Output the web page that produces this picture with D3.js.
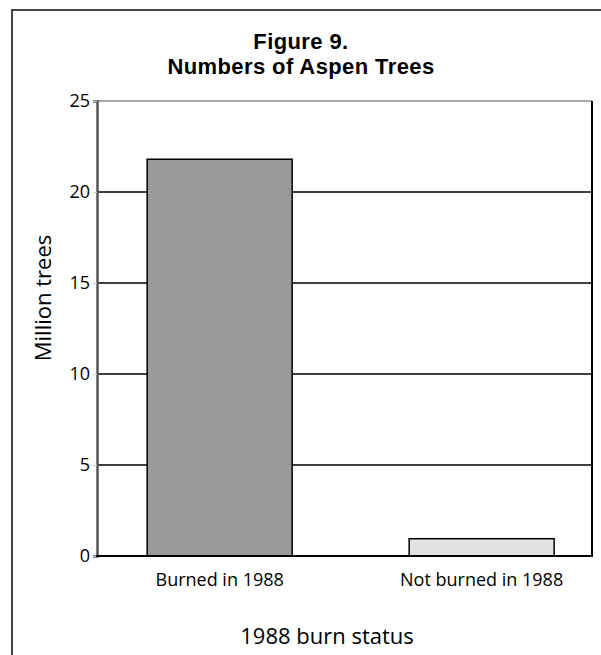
<!DOCTYPE html>
<html><head><meta charset="utf-8">
<script src="https://cdn.jsdelivr.net/npm/d3@7"></script>
<style>body{margin:0;background:#fff}svg{display:block}text{font-family:"Open Sans",sans-serif;fill:#000}</style>
</head><body>
<script>
const categories = ["Burned in 1988", "Not burned in 1988"];
const values = [21.8, 0.95];
const barColors = ["#9a9a9a", "#e2e2e2"];
const yTicks = [0, 5, 10, 15, 20, 25];
const titleLines = ["Figure 9.", "Numbers of Aspen Trees"];
const yTitle = "Million trees";
const xTitle = "1988 burn status";

const W = 601, H = 655;
const svg = d3.select("body").append("svg").attr("width", W).attr("height", H);

// outer frame
svg.append("rect").attr("x", 12).attr("y", 10).attr("width", 700).attr("height", 700)
  .attr("fill", "none").attr("stroke", "#444").attr("stroke-width", 2);

const m = {left: 97, right: 592, top: 101, bottom: 556};
const y = d3.scaleLinear().domain([0, 25]).range([m.bottom, m.top]);
const x = d3.scaleBand().domain(categories).range([m.left, m.right])
  .paddingInner(0.4466).paddingOuter(0.168).align(0.57);

// gridlines
svg.append("g").selectAll("line").data(yTicks.filter(d => d > 0 && d < 25)).join("line")
  .attr("x1", m.left).attr("x2", m.right).attr("y1", d => y(d)).attr("y2", d => y(d))
  .attr("stroke", "#000").attr("stroke-width", 1.3);
// top line
svg.append("line").attr("x1", m.left).attr("x2", m.right).attr("y1", y(25)).attr("y2", y(25))
  .attr("stroke", "#aaa").attr("stroke-width", 2);

// bars
svg.append("g").selectAll("rect").data(categories).join("rect")
  .attr("x", d => x(d)).attr("width", x.bandwidth())
  .attr("y", (d, i) => y(values[i])).attr("height", (d, i) => y(0) - y(values[i]))
  .attr("fill", (d, i) => barColors[i]).attr("stroke", "#000").attr("stroke-width", 1.5);

// right edge
svg.append("line").attr("x1", m.right).attr("x2", m.right).attr("y1", m.top).attr("y2", m.bottom)
  .attr("stroke", "#000").attr("stroke-width", 2);

// y axis
const yAxis = svg.append("g").attr("transform", `translate(${m.left},0)`)
  .call(d3.axisLeft(y).tickValues(yTicks).tickSize(4).tickPadding(3).tickFormat(d3.format("d")));
yAxis.select(".domain").attr("stroke", "#555").attr("stroke-width", 2.5);
yAxis.selectAll(".tick line").attr("stroke", "#ccc");
yAxis.selectAll("text").style("font-size", "18px");

// x axis
svg.append("line").attr("x1", m.left - 1).attr("x2", m.right + 1).attr("y1", m.bottom).attr("y2", m.bottom)
  .attr("stroke", "#000").attr("stroke-width", 2);
svg.append("g").selectAll("text").data(categories).join("text")
  .attr("x", d => x(d) + x.bandwidth() / 2).attr("y", 586)
  .attr("text-anchor", "middle").style("font-size", "18px").text(d => d);

// title
svg.append("g").selectAll("text").data(titleLines).join("text")
  .attr("x", 301).attr("y", (d, i) => 49 + i * 25).attr("text-anchor", "middle")
  .style("font-family", "'Liberation Sans', Arial, sans-serif")
  .style("letter-spacing", "0.4px")
  .style("font-size", "22px").style("font-weight", "bold").text(d => d);

svg.append("text").attr("transform", "translate(51,298) rotate(-90)")
  .attr("text-anchor", "middle").style("font-size", "22px").text(yTitle);
svg.append("text").attr("x", 327).attr("y", 644).attr("text-anchor", "middle")
  .style("font-size", "22px").text(xTitle);
</script>
</body></html>
